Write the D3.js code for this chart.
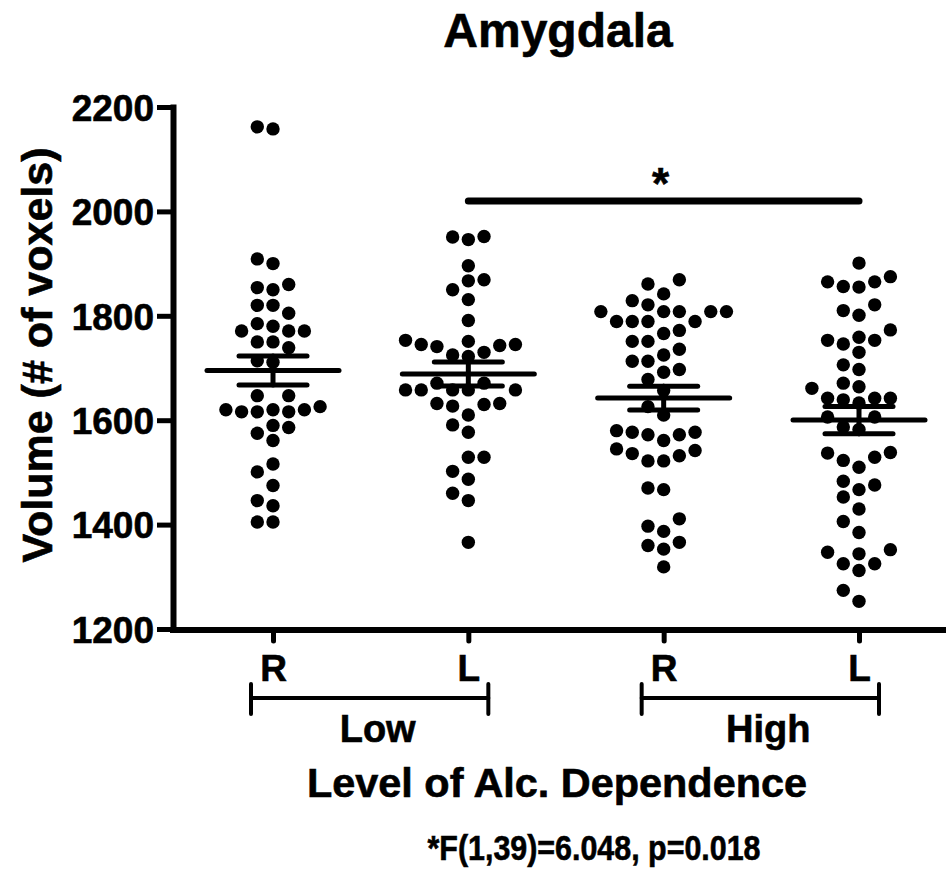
<!DOCTYPE html>
<html>
<head>
<meta charset="utf-8">
<script src="https://cdn.jsdelivr.net/npm/d3@7"></script>
<style>
  body { margin: 0; background: #fff; }
  text { font-family: "Liberation Sans", Arial, sans-serif; font-weight: bold; fill: #000; stroke: #000; stroke-width: 0.6px; }
</style>
</head>
<body>
<div id="chart"></div>
<script>
// groups on the x axis
var categories = ["lowR", "lowL", "highR", "highL"];
var tickLabels = ["R", "L", "R", "L"];
var levels = ["Low", "High"];
var yTicks = [1200, 1400, 1600, 1800, 2000, 2200];

// volumes, one array per group
var lowR = [2158, 2162, 1900, 1909, 1854, 1850, 1860, 1820, 1820, 1805, 1785, 1771, 1771, 1771, 1780,
  1750, 1750, 1739, 1714, 1711, 1647, 1647, 1620, 1620, 1616, 1616, 1616, 1620, 1626, 1586, 1575,
  1590, 1561, 1516, 1501, 1475, 1446, 1436, 1405, 1405];
var lowL = [1952, 1946, 1951, 1896, 1869, 1867, 1850, 1831, 1791, 1745, 1741, 1751, 1753, 1730, 1743,
  1745, 1725, 1722, 1671, 1671, 1658, 1658, 1658, 1658, 1658, 1632, 1627, 1630, 1632, 1610, 1591,
  1577, 1529, 1529, 1502, 1487, 1460, 1446, 1366];
var highR = [1869, 1861, 1842, 1821, 1829, 1808, 1808, 1808, 1808, 1808, 1789, 1789, 1789, 1789, 1766,
  1772, 1751, 1751, 1736, 1725, 1713, 1713, 1697, 1692, 1678, 1657, 1626, 1610, 1580, 1577, 1572,
  1561, 1572, 1577, 1542, 1532, 1522, 1522, 1536, 1545, 1470, 1467, 1411, 1397, 1387, 1360, 1353,
  1366, 1319];
var highL = [1901, 1875, 1865, 1855, 1856, 1865, 1810, 1801, 1821, 1773, 1753, 1746, 1759, 1753, 1730,
  1697, 1706, 1671, 1664, 1661, 1642, 1642, 1633, 1639, 1642, 1606, 1606, 1587, 1582, 1538, 1529,
  1510, 1523, 1537, 1476, 1467, 1483, 1453, 1430, 1406, 1385, 1344, 1347, 1352, 1325, 1312, 1325,
  1274, 1253];

var series = [lowR, lowL, highR, highL];
var sigValue = 2020;

var width = 946, height = 875;

var svg = d3.select("#chart").append("svg")
  .attr("width", width)
  .attr("height", height);

var y = d3.scaleLinear().domain([1200, 2200]).range([629, 107]);
var x = d3.scalePoint().domain(categories).range([273, 859]);

// title
svg.append("text")
  .attr("x", 558).attr("y", 47)
  .attr("text-anchor", "middle")
  .style("font-size", "48px")
  .text("Amygdala");

// y axis
var yAxis = svg.append("g")
  .attr("transform", "translate(173,0)")
  .call(d3.axisLeft(y).tickValues(yTicks).tickFormat(d3.format("d"))
    .tickSize(16).tickPadding(3).tickSizeOuter(0));
yAxis.select(".domain").attr("stroke-width", 6).attr("stroke-linecap", "square");
yAxis.selectAll(".tick line").attr("stroke-width", 5);
yAxis.selectAll(".tick text")
  .attr("dy", "0.36em")
  .style("font-size", "37px")
  .style("font-family", "'Liberation Sans', Arial, sans-serif")
  .style("font-weight", "bold");

svg.append("text")
  .attr("transform", "translate(52,355) rotate(-90)")
  .attr("text-anchor", "middle")
  .style("font-size", "43px")
  .text("Volume (# of voxels)");

// x axis: long baseline then ticks from the point scale
svg.append("line")
  .attr("x1", 170).attr("x2", width)
  .attr("y1", 630).attr("y2", 630)
  .attr("stroke", "#000").attr("stroke-width", 6);

var xAxis = svg.append("g")
  .attr("transform", "translate(0,630)")
  .call(d3.axisBottom(x).tickSize(11).tickPadding(14).tickSizeOuter(0)
    .tickFormat(function(d, i) { return tickLabels[i]; }));
xAxis.select(".domain").remove();
xAxis.selectAll(".tick line").attr("stroke-width", 5).attr("stroke-linecap", "round");
xAxis.selectAll(".tick text")
  .style("font-size", "37px")
  .style("font-family", "'Liberation Sans', Arial, sans-serif")
  .style("font-weight", "bold");

// Low / High brackets under the tick labels
levels.forEach(function(lv, i) {
  var x1 = x(categories[i * 2]) - 22, x2 = x(categories[i * 2 + 1]) + 20;
  var g = svg.append("g").attr("stroke", "#000").attr("stroke-width", 4).attr("stroke-linecap", "round");
  g.append("line").attr("x1", x1).attr("x2", x2).attr("y1", 698).attr("y2", 698);
  g.append("line").attr("x1", x1).attr("x2", x1).attr("y1", 684).attr("y2", 714);
  g.append("line").attr("x1", x2).attr("x2", x2).attr("y1", 684).attr("y2", 714);
  svg.append("text")
    .attr("x", (x1 + x2) / 2 + 8).attr("y", 742)
    .attr("text-anchor", "middle")
    .style("font-size", "38px")
    .text(lv);
});

svg.append("text")
  .attr("x", 557).attr("y", 797)
  .attr("text-anchor", "middle")
  .attr("textLength", 500).attr("lengthAdjust", "spacingAndGlyphs")
  .style("font-size", "40px")
  .text("Level of Alc. Dependence");

svg.append("text")
  .attr("x", 594).attr("y", 860)
  .attr("text-anchor", "middle")
  .attr("textLength", 333).attr("lengthAdjust", "spacingAndGlyphs")
  .style("font-size", "35px")
  .text("*F(1,39)=6.048, p=0.018");

// simple column-slot beeswarm, like the prism scatter
var step = 15.7, minGap = 15, r = 6.7;
function swarm(values, cx) {
  var placed = [];
  return values.slice().sort(d3.ascending).map(function(v) {
    var py = y(v);
    for (var k = 0; ; k++) {
      var slot = k === 0 ? 0 : (k % 2 ? -Math.ceil(k / 2) : Math.ceil(k / 2));
      var hit = placed.some(function(p) { return p.slot === slot && Math.abs(p.py - py) < minGap; });
      if (!hit) {
        placed.push({ slot: slot, py: py });
        return { x: cx + slot * step, y: py };
      }
    }
  });
}

series.forEach(function(vals, i) {
  var cx = x(categories[i]);
  svg.append("g").selectAll("circle")
    .data(swarm(vals, cx))
    .join("circle")
    .attr("cx", function(d) { return d.x; })
    .attr("cy", function(d) { return d.y; })
    .attr("r", r)
    .attr("fill", "#000");

  var m = d3.mean(vals), sem = d3.deviation(vals) / Math.sqrt(vals.length);
  var g = svg.append("g").attr("stroke", "#000").attr("stroke-linecap", "round");
  g.append("line").attr("x1", cx - 66).attr("x2", cx + 66)
    .attr("y1", y(m)).attr("y2", y(m)).attr("stroke-width", 5);
  g.append("line").attr("x1", cx).attr("x2", cx)
    .attr("y1", y(m + sem)).attr("y2", y(m - sem)).attr("stroke-width", 5);
  [m + sem, m - sem].forEach(function(v) {
    g.append("line").attr("x1", cx - 34).attr("x2", cx + 34)
      .attr("y1", y(v)).attr("y2", y(v)).attr("stroke-width", 5);
  });
});

// significance bar between the two L groups
svg.append("line")
  .attr("x1", x("lowL")).attr("x2", x("highL"))
  .attr("y1", y(sigValue)).attr("y2", y(sigValue))
  .attr("stroke", "#000").attr("stroke-width", 7).attr("stroke-linecap", "round");
svg.append("text")
  .attr("x", (x("lowL") + x("highL")) / 2 - 3).attr("y", y(sigValue) - 2)
  .attr("text-anchor", "middle")
  .style("font-size", "44px")
  .text("*");
</script>
</body>
</html>
